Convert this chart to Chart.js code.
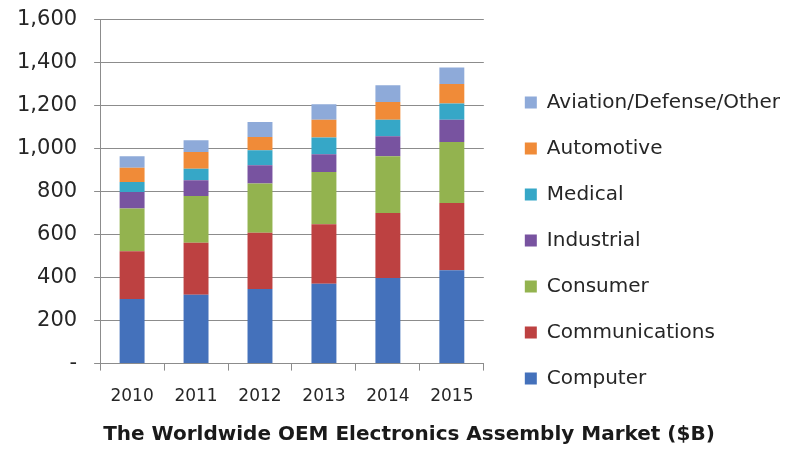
<!DOCTYPE html>
<html>
<head>
<meta charset="utf-8">
<script src="https://cdn.jsdelivr.net/npm/chart.js@4.4.1/dist/chart.umd.min.js"></script>
<style>
	html, body { margin: 0; padding: 0; background: #ffffff; }
	#wrap { width: 788px; height: 451px; position: relative; }
</style>
</head>
<body>
<div id="wrap"><canvas id="myChart" width="788" height="451"></canvas></div>
<script>
// Years on the x axis
const years = ["2010", "2011", "2012", "2013", "2014", "2015"];

// Segment values, $B (stacked bottom to top)
const computer = [300, 320, 347, 371, 397, 433];
const communications = [222, 241, 261, 276, 302, 313];
const consumer = [198, 217, 228, 243, 264, 283];
const industrial = [77, 73, 85, 82, 93, 104];
const medical = [46, 54, 70, 78, 77, 75];
const automotive = [67, 78, 62, 83, 82, 90];
const aviation = [53, 54, 69, 72, 78, 77];

const yTicks = [0, 200, 400, 600, 800, 1000, 1200, 1400, 1600];

// Extra room between plot and legend, and legend / title nudges
const LEGEND_EXTRA = 13;
const LEGEND_SHIFT_X = 15;
const LEGEND_SHIFT_Y = 15;
const TITLE_SHIFT_X = 15;

function series(label, values, color) {
	return {
		label: label,
		data: values,
		backgroundColor: color,
		borderWidth: 0,
		categoryPercentage: 1,
		barPercentage: 0.39,
	};
}

const data = {
	labels: years,
	datasets: [
		series("Computer", computer, "#4471bb"),
		series("Communications", communications, "#bd4141"),
		series("Consumer", consumer, "#93b34f"),
		series("Industrial", industrial, "#7853a0"),
		series("Medical", medical, "#36a7c7"),
		series("Automotive", automotive, "#f08b38"),
		series("Aviation/Defense/Other", aviation, "#8eaad9"),
	],
};

// Widen the legend box so the plot ends earlier, then slide the items over
const legendGap = {
	id: "legendGap",
	beforeLayout(chart) {
		const legend = chart.legend;
		if (legend && !legend._gapPatched) {
			legend._gapPatched = true;
			const origFit = legend.fit;
			legend.fit = function () {
				origFit.call(this);
				this.width += LEGEND_EXTRA;
			};
		}
	},
	afterLayout(chart) {
		const legend = chart.legend;
		if (legend) {
			legend.left += LEGEND_SHIFT_X;
			legend.right += LEGEND_SHIFT_X;
			legend.top += LEGEND_SHIFT_Y;
			legend.bottom += LEGEND_SHIFT_Y;
		}
		const title = chart.titleBlock;
		if (title) {
			title.left += TITLE_SHIFT_X;
			title.right += TITLE_SHIFT_X;
		}
	},
};

const chartCanvas = document.getElementById("myChart").getContext("2d");
Chart.defaults.font.family = "'DejaVu Sans', sans-serif";
Chart.defaults.color = "#262626";

const chart = new Chart(chartCanvas, {
	type: "bar",
	data: data,
	plugins: [legendGap],
	options: {
		responsive: false,
		animation: false,
		layout: {
			padding: { left: 0, right: 0, top: 0, bottom: 0 },
		},
		plugins: {
			legend: {
				position: "right",
				reverse: true,
				maxWidth: 340,
				labels: {
					boxWidth: 12,
					boxHeight: 12,
					padding: 26,
					color: "#262626",
					font: { size: 20 },
				},
			},
			title: {
				display: true,
				position: "bottom",
				text: "The Worldwide OEM Electronics Assembly Market ($B)",
				color: "#1a1a1a",
				font: { size: 20, weight: "bold" },
				padding: { top: 0, bottom: 4 },
			},
			tooltip: { enabled: false },
		},
		scales: {
			x: {
				stacked: true,
				grid: {
					offset: true,
					drawOnChartArea: false,
					drawTicks: true,
					tickLength: 7,
					color: "#8c8c8c",
				},
				border: { color: "#8c8c8c", width: 1 },
				ticks: {
					color: "#262626",
					font: { size: 17 },
					padding: 16,
				},
			},
			y: {
				stacked: true,
				min: 0,
				max: 1600,
				afterBuildTicks: (axis) => {
					axis.ticks = yTicks.map((v) => ({ value: v }));
				},
				grid: {
					color: "#8c8c8c",
					drawTicks: true,
					tickLength: 6,
				},
				border: { color: "#8c8c8c", width: 1 },
				ticks: {
					color: "#262626",
					font: { size: 21, lineHeight: 0.2 },
					padding: 17,
					callback: (value) => (value === 0 ? "-" : value.toLocaleString("en-US")),
				},
			},
		},
	},
});
</script>
</body>
</html>
